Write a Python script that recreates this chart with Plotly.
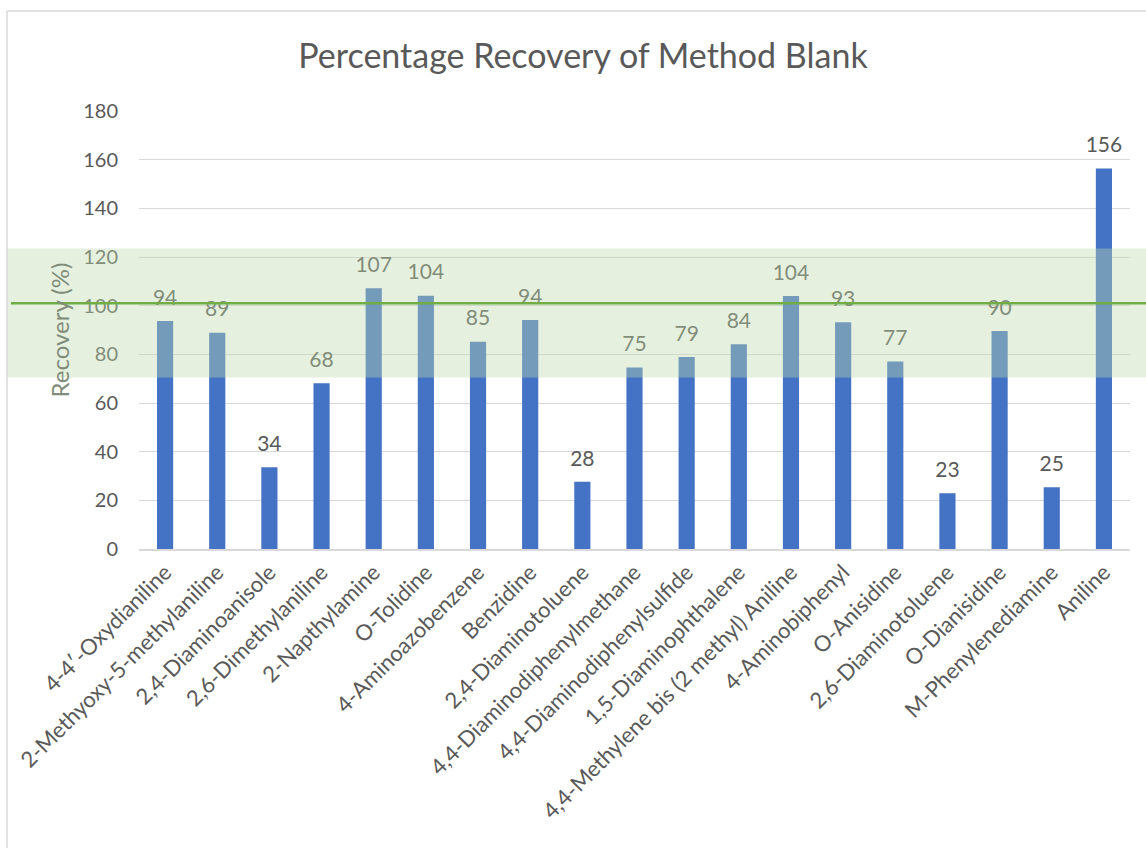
import plotly.graph_objects as go

categories = [
    "4-4′-Oxydianiline", "2-Methyoxy-5-methylaniline", "2,4-Diaminoanisole",
    "2,6-Dimethylaniline", "2-Napthylamine", "O-Tolidine", "4-Aminoazobenzene",
    "Benzidine", "2,4-Diaminotoluene", "4,4-Diaminodiphenylmethane",
    "4,4-Diaminodiphenylsulfide", "1,5-Diaminophthalene",
    "4,4-Methylene bis (2 methyl) Aniline", "4-Aminobiphenyl", "O-Anisidine",
    "2,6-Diaminotoluene", "O-Dianisidine", "M-Phenylenediamine", "Aniline",
]
recovery = [93.7, 88.9, 33.6, 68.1, 107.2, 104.1, 85.2, 94.1, 27.6, 74.6,
            78.9, 84.1, 104.0, 93.2, 77.1, 22.9, 89.6, 25.4, 156.4]
labels = [str(round(v)) for v in recovery]
band_low, band_high = 70.5, 123.5
target_line = 101
y_ticks = [0, 20, 40, 60, 80, 100, 120, 140, 160, 180]

FONT = "Lato, 'Open Sans', sans-serif"
GRAY = "#595959"

W, H = 1146, 848
L, R, T, B = 139, 16, 111, 299
pw, ph = W - L - R, H - T - B

def px_x(p):
    return (p - L) / pw

def px_y(p):
    return (H - B - p) / ph

fig = go.Figure()
fig.add_trace(go.Bar(
    x=categories, y=recovery, marker=dict(color="#4472C4", line=dict(width=0)),
    showlegend=False, hoverinfo="skip",
))
fig.add_trace(go.Scatter(
    x=categories, y=recovery, mode="markers+text", text=labels,
    textposition="top center",
    marker=dict(size=16, color="rgba(0,0,0,0)"),
    textfont=dict(family=FONT, size=21, color=GRAY),
    showlegend=False, hoverinfo="skip", cliponaxis=False,
))

shapes = [
    dict(type="rect", xref="paper", yref="y", x0=px_x(7), x1=px_x(1146),
         y0=band_low, y1=band_high, fillcolor="rgb(190,217,172)", opacity=0.4,
         line=dict(width=0), layer="above"),
    dict(type="line", xref="paper", yref="y", x0=px_x(11), x1=px_x(1146),
         y0=target_line, y1=target_line, line=dict(color="#70AD47", width=2.5),
         layer="above"),
    dict(type="line", xref="paper", yref="paper", x0=px_x(7), x1=px_x(1146),
         y0=px_y(11), y1=px_y(11), line=dict(color="#D9D9D9", width=1.5)),
    dict(type="line", xref="paper", yref="paper", x0=px_x(7), x1=px_x(7),
         y0=px_y(11), y1=px_y(848), line=dict(color="#D9D9D9", width=1.5)),
]

fig.update_layout(
    width=W, height=H,
    margin=dict(l=L, r=R, t=T, b=B, autoexpand=False),
    paper_bgcolor="white", plot_bgcolor="white",
    bargap=0.69,
    font=dict(family=FONT, color=GRAY),
    title=dict(text="Percentage Recovery of Method Blank", x=583 / W,
               xref="container", xanchor="center", y=1 - 56 / H,
               yref="container", yanchor="middle",
               font=dict(family=FONT, size=34, color=GRAY)),
    shapes=shapes,
    annotations=[dict(text="Recovery (%)", xref="paper", yref="paper",
                      x=px_x(58.5), y=px_y(330), textangle=-90, showarrow=False,
                      xanchor="center", yanchor="middle",
                      font=dict(family=FONT, size=24, color="#7f8c7a"))],
)
fig.update_yaxes(range=[0, 180], tickvals=y_ticks, showgrid=True,
                 gridcolor="#D9D9D9", gridwidth=1, zeroline=False,
                 showline=False, ticks="", ticklabelstandoff=20,
                 tickfont=dict(family=FONT, size=20, color=GRAY))
fig.update_xaxes(range=[-0.5, len(categories) - 0.5],
                 showline=True, linecolor="#D9D9D9", linewidth=1.5,
                 ticks="", tickangle=-45, showgrid=False,
                 tickfont=dict(family=FONT, size=22, color=GRAY))

fig.write_html("out.html")
